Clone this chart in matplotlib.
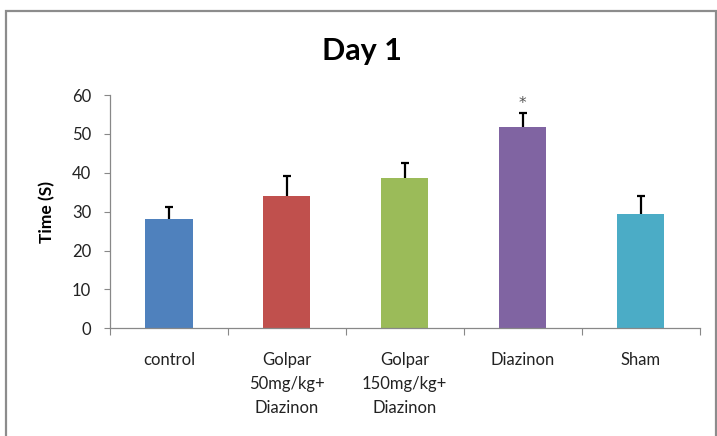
import matplotlib
matplotlib.use("Agg")
import matplotlib.pyplot as plt
from matplotlib.patches import Rectangle

# Group labels, mean times and error (SEM) values
categories = ["control", "Golpar\n50mg/kg+\nDiazinon", "Golpar\n150mg/kg+\nDiazinon",
              "Diazinon", "Sham"]
means = [28.2, 34.0, 38.7, 51.8, 29.4]
errors = [3.0, 5.2, 3.9, 3.5, 4.7]
colors = ["#4F81BD", "#C0504D", "#9BBB59", "#8064A2", "#4BACC6"]
significance = ["", "", "", "*", ""]
yticks = [0, 10, 20, 30, 40, 50, 60]

plt.rcParams["font.family"] = ["Lato", "DejaVu Sans"]

fig = plt.figure(figsize=(7.17, 4.36), dpi=100)
ax = fig.add_axes([0.1534, 0.247, 0.8222, 0.5351])

x = list(range(len(categories)))
# error bars sit behind the bars so only the upper half shows
ax.errorbar(x, means, yerr=errors, fmt="none",
            ecolor="black", elinewidth=1.6, capsize=3.2, capthick=1.6, zorder=1)
ax.bar(x, means, width=0.4, color=colors, zorder=2)

for xi, m, e, s in zip(x, means, errors, significance):
    if s:
        ax.text(xi, m + e + 2.4, s, ha="center", va="center", fontsize=11,
                color="#555555", family="DejaVu Sans")

ax.set_xlim(-0.5, len(categories) - 0.5)
ax.set_ylim(0, 60)
ax.set_yticks(yticks)
ax.set_xticks(x)
ax.set_xticklabels(categories, fontsize=12, color="#222222", linespacing=1.6, va="top")
ax.set_xticks([i - 0.5 for i in range(len(categories) + 1)], minor=True)
ax.tick_params(axis="x", which="major", length=0, pad=17)
ax.tick_params(axis="x", which="minor", length=5, width=0.8, color="#888888", direction="out")
ax.tick_params(axis="y", length=4.5, width=0.8, color="#888888", labelsize=12,
               labelcolor="#222222", pad=9)

for side in ["top", "right"]:
    ax.spines[side].set_visible(False)
for side in ["left", "bottom"]:
    ax.spines[side].set_color("#888888")
    ax.spines[side].set_linewidth(0.9)

ax.set_ylabel("Time (S)", fontsize=12.5, fontweight="bold", labelpad=12)
fig.text(0.505, 1 - 60 / 436, "Day 1", ha="center", va="baseline", fontsize=22, fontweight="bold")

# Outer chart frame
fig.patches.append(Rectangle((6 / 717, -0.1), (716 - 6) / 717, 1.1 - 11 / 436,
                             transform=fig.transFigure, fill=False,
                             edgecolor="#8c8c8c", linewidth=1.6))

fig.savefig("out.png", dpi=100)
